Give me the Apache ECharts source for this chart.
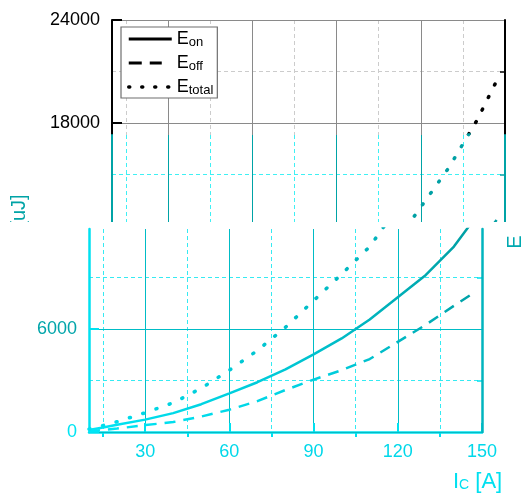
<!DOCTYPE html>
<html><head><meta charset="utf-8">
<script src="https://cdn.jsdelivr.net/npm/echarts@6/dist/echarts.min.js"></script>
<style>html,body{margin:0;padding:0;background:#fff}#c{width:522px;height:498px}</style>
</head><body><div id="c"></div>
<script>
// ---- data ----
const current = [10, 15, 20, 30, 40, 50, 60, 70, 80, 90, 100, 110, 120, 130, 140, 147];
const eOn     = [120, 260, 420, 720, 1100, 1620, 2250, 2900, 3650, 4520, 5450, 6550, 7850, 9150, 10800, 12350];
const eOff    = [50, 120, 200, 400, 580, 900, 1300, 1800, 2450, 3050, 3600, 4250, 5250, 6250, 7350, 8100];
const eTotal  = [170, 380, 600, 1120, 1700, 2550, 3600, 4750, 6100, 7650, 9200, 10800, 13100, 15400, 18150, 20450];
const seriesNames = ['Eon', 'Eoff', 'Etotal'];
const xMajorTicks = [30, 60, 90, 120, 150];
const xMinorTicks = [15, 45, 75, 105, 135];
const yMajorTicks = [0, 6000, 12000, 18000, 24000];
const yMinorTicks = [3000, 9000, 15000, 21000];
const xMin = 10, xMax = 150, yMax = 24000;

const FONT = 'Liberation Sans, Arial, sans-serif';
const PX_PER_UNIT = 412 / yMax; // plot height 412px for full range

function pairs(ys) { return current.map((x, i) => [x, ys[i]]); }

const panels = [
  { // original black part
    zlevel: 0, left: 112, right: 17, top: 20, bottom: 66,
    ymax: yMax, axisColor: '#000', axisWidth: 2, solidGrid: '#8a8a8a', dashGrid: '#cccccc',
    lineColors: ['#000', '#000', '#000'], yLabels: true, yLabelColor: '#000', xLabels: false,
    topBorder: true, names: seriesNames
  },
  { // cyan band, not shifted
    zlevel: 1, left: 112, right: 17, top: 135, bottom: 66,
    ymax: (432 - 135) / PX_PER_UNIT, axisColor: '#00a3a6', axisWidth: 2, solidGrid: '#00a3a6', dashGrid: '#3ff0f4',
    lineColors: ['#00a0a4', '#00a0a4', '#00a0a4'], yLabels: false, xLabels: false,
    topBorder: false, names: seriesNames.map(n => n + ' ')
  },
  { // cyan band, shifted left
    zlevel: 2, left: 89, right: 40, top: 229, bottom: 66,
    ymax: (432 - 229) / PX_PER_UNIT, axisColor: '#00e1f0', axisWidth: 2.5, solidGrid: '#00bcc6', dashGrid: '#35eaf2',
    lineColors: [
      new echarts.graphic.LinearGradient(0, 0, 1, 0, [{offset: 0, color: '#00e6f6'}, {offset: 0.5, color: '#00c8d6'}, {offset: 1, color: '#009ea2'}]),
      new echarts.graphic.LinearGradient(0, 0, 1, 0, [{offset: 0, color: '#00e6f6'}, {offset: 0.6, color: '#00d0e0'}, {offset: 1, color: '#00a0a6'}]),
      new echarts.graphic.LinearGradient(0, 0, 1, 0, [{offset: 0, color: '#00e0f0'}, {offset: 1, color: '#00a4aa'}])
    ],
    yLabels: true, yLabelColor: (v) => (Number(v) === 0 ? '#00e4f2' : '#00a5aa'), xLabels: true,
    topBorder: false, names: seriesNames.map(n => n + '  ')
  }
];

const grid = [], xAxis = [], yAxis = [], series = [];
panels.forEach((p, g) => {
  grid.push({ left: p.left, right: p.right, top: p.top, bottom: p.bottom, zlevel: p.zlevel, containLabel: false });
  const xi = xAxis.length, yi = yAxis.length;
  // x major (solid grid, labels)
  xAxis.push({
    gridIndex: g, type: 'value', min: xMin, max: xMax, zlevel: p.zlevel, z: 1,
    axisLine: { show: g === 2, lineStyle: { color: p.axisColor, width: p.axisWidth } },
    axisTick: { show: g === 2, inside: true, length: 9, customValues: xMajorTicks, lineStyle: { color: p.axisColor, width: 2 } },
    axisLabel: { show: p.xLabels, customValues: xMajorTicks, color: '#00d8ea', fontSize: 18, fontFamily: FONT, margin: 11,
      formatter: (v) => String(v) },
    splitLine: { show: true, lineStyle: { color: p.solidGrid, width: 1, type: 'solid' } }
  });
  // x minor (dashed grid)
  xAxis.push({
    gridIndex: g, type: 'value', min: xMin, max: xMax, zlevel: p.zlevel, z: 0,
    axisLine: { show: false },
    axisTick: { show: g === 2, inside: true, length: 5, customValues: xMinorTicks, lineStyle: { color: p.axisColor, width: 2 } },
    axisLabel: { show: false },
    splitLine: { show: true, lineStyle: { color: p.dashGrid, width: 1, type: [4, 3] } }
  });
  if (p.topBorder) {
    xAxis.push({
      gridIndex: g, type: 'value', position: 'top', min: xMin, max: xMax, zlevel: p.zlevel, z: 3,
      axisLine: { show: true, lineStyle: { color: p.axisColor, width: p.axisWidth } },
      axisTick: { show: false }, axisLabel: { show: false }, splitLine: { show: false }
    });
  }
  const yMaj = yMajorTicks.filter(v => v <= p.ymax);
  const yMin2 = yMinorTicks.filter(v => v <= p.ymax);
  yAxis.push({
    gridIndex: g, type: 'value', min: 0, max: p.ymax, zlevel: p.zlevel, z: 3,
    axisLine: { show: true, lineStyle: { color: p.axisColor, width: p.axisWidth } },
    axisTick: { show: true, inside: true, length: 10, customValues: yMaj, lineStyle: { color: p.axisColor, width: 2 } },
    axisLabel: { show: p.yLabels, customValues: yMaj, color: p.yLabelColor, fontSize: 18, fontFamily: FONT, margin: 12,
      formatter: (v) => String(v) },
    splitLine: { show: true, lineStyle: { color: p.solidGrid, width: 1, type: 'solid' } }
  });
  yAxis.push({
    gridIndex: g, type: 'value', min: 0, max: p.ymax, zlevel: p.zlevel, z: 0,
    axisLine: { show: false },
    axisTick: { show: true, inside: true, length: 5, customValues: yMin2, lineStyle: { color: p.axisColor, width: 1.5 } },
    axisLabel: { show: false },
    splitLine: { show: true, lineStyle: { color: p.dashGrid, width: 1, type: [4, 3] } }
  });
  yAxis.push({
    gridIndex: g, type: 'value', position: 'right', min: 0, max: p.ymax, zlevel: p.zlevel, z: 3,
    axisLine: { show: true, lineStyle: { color: g === 2 ? '#00b4be' : p.axisColor, width: p.axisWidth } },
    axisTick: { show: false }, axisLabel: { show: false }, splitLine: { show: false }
  });
  const styles = [
    { type: 'solid', width: 2.5 },
    { type: [11, 8], width: 2.5 },
    { type: [1, 13], width: 3.5, cap: 'round' }
  ];
  [eOn, eOff, eTotal].forEach((ys, k) => {
    series.push({
      name: p.names[k], type: 'line', data: pairs(ys), xAxisIndex: xi, yAxisIndex: yi,
      zlevel: p.zlevel, z: 5, symbol: 'none', smooth: false, clip: true, silent: true,
      lineStyle: Object.assign({ color: p.lineColors[k] }, styles[k]),
      itemStyle: { color: g === 0 ? '#000' : '#00c8d6' }
    });
  });
});

const option = {
  backgroundColor: '#fff',
  animation: false,
  grid, xAxis, yAxis, series,
  legend: {
    data: [
      { name: seriesNames[0], lineStyle: { type: 'solid', width: 3, color: '#000' } },
      { name: seriesNames[1], lineStyle: { type: [13, 8, 12, 30], width: 3, color: '#000' } },
      { name: seriesNames[2], lineStyle: { type: [1, 12], width: 3.5, cap: 'round', color: '#000' } }
    ],
    orient: 'vertical', left: 121, top: 27, zlevel: 0, z: 10,
    padding: [2, 4, 1, 6], itemGap: 4, itemWidth: 43, itemHeight: 14,
    backgroundColor: '#fff', borderColor: '#6f6f6f', borderWidth: 1.2,
    selectedMode: false,
    itemStyle: { opacity: 0 },
    formatter: (n) => '{e|E}{s|' + n.slice(1) + '}',
    textStyle: {
      fontFamily: FONT, color: '#000', lineHeight: 20,
      rich: {
        e: { fontSize: 18, fontFamily: FONT, color: '#000', lineHeight: 20 },
        s: { fontSize: 13, fontFamily: FONT, color: '#000', lineHeight: 20, padding: [6, 0, 0, 0] }
      }
    }
  },
  graphic: [
    { type: 'rect', zlevel: 1, z: -10, silent: true, shape: { x: 0, y: 135, width: 522, height: 363 }, style: { fill: '#fff' } },
    { type: 'rect', zlevel: 2, z: -10, silent: true, shape: { x: 0, y: 222, width: 522, height: 276 }, style: { fill: '#fff' } },
    { type: 'text', zlevel: 1, z: 10, silent: true, x: 19, y: 220, rotation: Math.PI / 2,
      style: { text: 'E [uJ]', font: '20px ' + FONT, fill: '#00a3a6', align: 'center', verticalAlign: 'middle' } },
    { type: 'text', zlevel: 2, z: 10, silent: true, x: 515, y: 242, rotation: Math.PI / 2,
      style: { text: 'E', font: '20px ' + FONT, fill: '#00a9b0', align: 'center', verticalAlign: 'middle' } },
    { type: 'text', zlevel: 2, z: 10, silent: true, left: 453, top: 471,
      style: { text: '{a|I}{b|C}{a| [A]}', fill: '#00e0f0', font: '22px ' + FONT,
        rich: { a: { fontSize: 22, fontFamily: FONT, fill: '#00e0f0', lineHeight: 26 },
                b: { fontSize: 14, fontFamily: FONT, fill: '#00e0f0', lineHeight: 26, padding: [6, 0, 0, 0] } } } }
  ]
};
const chart = echarts.init(document.getElementById('c'), null, { renderer: 'canvas' });
chart.setOption(option);
</script></body></html>
